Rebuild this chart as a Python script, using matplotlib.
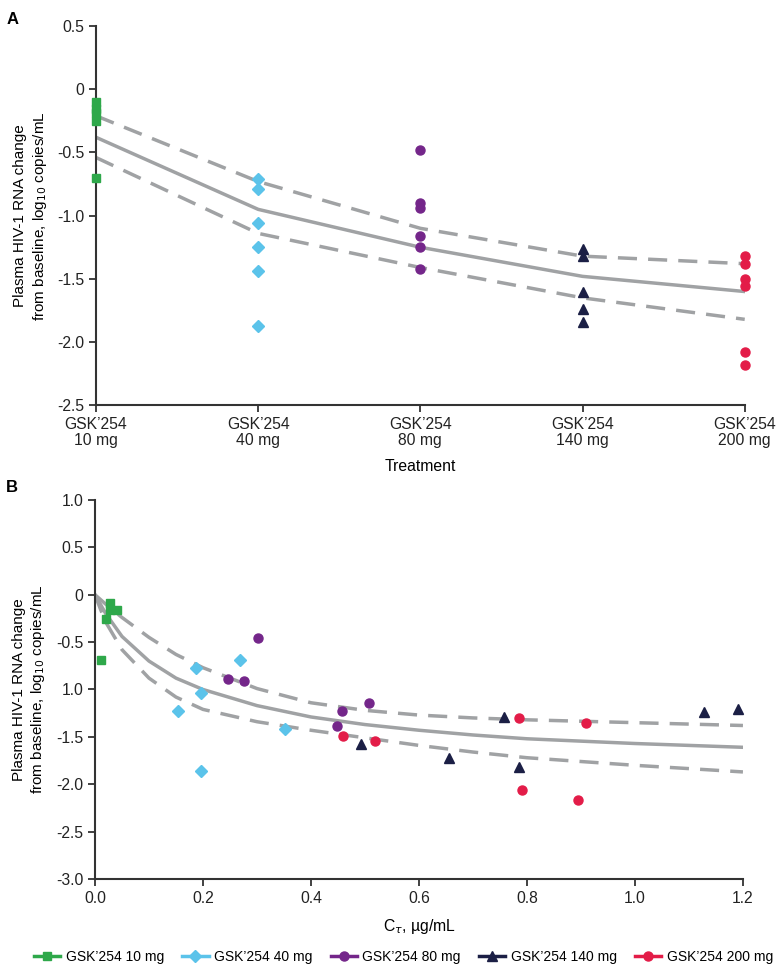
import matplotlib
matplotlib.use("Agg")
from matplotlib import pyplot as plt
from matplotlib.lines import Line2D

plt.rcParams['font.family'] = ['Liberation Sans', 'DejaVu Sans']
plt.rcParams['font.size'] = 11

# groups
groups = ["GSK’254 10 mg", "GSK’254 40 mg", "GSK’254 80 mg", "GSK’254 140 mg", "GSK’254 200 mg"]
colors = ["#2ea84a", "#5bc3ea", "#74268a", "#1b1f45", "#e31c48"]
markers = ["s", "D", "o", "^", "o"]
msizes = [6, 6.5, 6.5, 6.5, 6.5]
cat_labels = ["GSK’254\n10 mg", "GSK’254\n40 mg", "GSK’254\n80 mg", "GSK’254\n140 mg", "GSK’254\n200 mg"]

# panel A: change in HIV-1 RNA by dose group
resp_10 = [-0.10, -0.16, -0.19, -0.25, -0.70]
resp_40 = [-0.71, -0.79, -1.06, -1.25, -1.44, -1.87]
resp_80 = [-0.48, -0.90, -0.94, -1.16, -1.25, -1.42]
resp_140 = [-1.26, -1.32, -1.60, -1.74, -1.84]
resp_200 = [-1.32, -1.38, -1.50, -1.56, -2.08, -2.18]
resp_by_dose = [resp_10, resp_40, resp_80, resp_140, resp_200]

# model prediction and bounds per dose group (panel A)
pred_a = [-0.38, -0.95, -1.25, -1.48, -1.60]
upper_a = [-0.21, -0.73, -1.10, -1.32, -1.38]
lower_a = [-0.54, -1.14, -1.41, -1.65, -1.82]

# panel B: change in HIV-1 RNA vs C-tau
ct_10 = [0.028, 0.027, 0.040, 0.020, 0.012]
ch_10 = [-0.09, -0.16, -0.16, -0.26, -0.69]
ct_40 = [0.188, 0.269, 0.197, 0.154, 0.351, 0.197]
ch_40 = [-0.77, -0.69, -1.04, -1.23, -1.42, -1.86]
ct_80 = [0.302, 0.246, 0.276, 0.507, 0.457, 0.448]
ch_80 = [-0.46, -0.89, -0.91, -1.14, -1.23, -1.39]
ct_140 = [0.493, 0.656, 0.758, 0.785, 1.127, 1.191]
ch_140 = [-1.58, -1.72, -1.29, -1.82, -1.24, -1.21]
ct_200 = [0.460, 0.519, 0.785, 0.909, 0.791, 0.895]
ch_200 = [-1.49, -1.54, -1.30, -1.35, -2.06, -2.17]
ct_by_dose = [ct_10, ct_40, ct_80, ct_140, ct_200]
ch_by_dose = [ch_10, ch_40, ch_80, ch_140, ch_200]

# model curves panel B
curve_x = [0, 0.01, 0.02, 0.05, 0.1, 0.15, 0.2, 0.3, 0.4, 0.5, 0.6, 0.7, 0.8, 1.0, 1.2]
pred_b = [0, -0.10, -0.20, -0.44, -0.70, -0.88, -1.00, -1.17, -1.29, -1.37, -1.43, -1.48, -1.52, -1.57, -1.61]
upper_b = [0, -0.05, -0.10, -0.24, -0.45, -0.63, -0.77, -0.99, -1.14, -1.22, -1.27, -1.30, -1.32, -1.35, -1.38]
lower_b = [0, -0.15, -0.29, -0.58, -0.88, -1.08, -1.21, -1.34, -1.43, -1.51, -1.59, -1.66, -1.72, -1.80, -1.87]

yt_a = [0.5, 0, -0.5, -1.0, -1.5, -2.0, -2.5]
yt_a_lab = ["0.5", "0", "-0.5", "-1.0", "-1.5", "-2.0", "-2.5"]
yt_b = [1.0, 0.5, 0, -0.5, -1.0, -1.5, -2.0, -2.5, -3.0]
yt_b_lab = ["1.0", "0.5", "0", "-0.5", "1.0", "-1.5", "-2.0", "-2.5", "-3.0"]
xt_b = [0.0, 0.2, 0.4, 0.6, 0.8, 1.0, 1.2]
xt_b_lab = ["0.0", "0.2", "0.4", "0.6", "0.8", "1.0", "1.2"]

ylabel = "Plasma HIV-1 RNA change\nfrom baseline, log$_{10}$ copies/mL"
curve_col = "#a0a2a4"
axis_col = "#333333"
dash = (0, (5.5, 3.2))


def style_axes(ax):
    for s in ["top", "right"]:
        ax.spines[s].set_visible(False)
    for s in ["left", "bottom"]:
        ax.spines[s].set_color(axis_col)
        ax.spines[s].set_linewidth(1.5)
    ax.tick_params(colors=axis_col, width=1.3, length=5, labelcolor="#222222", labelsize=11.3)


fig = plt.figure(figsize=(7.76, 9.65), dpi=100)

# ---- panel A
ax1 = fig.add_axes([0.1237, 0.580, 0.836, 0.393])
style_axes(ax1)
xs = range(len(groups))
ax1.plot(xs, pred_a, color=curve_col, lw=2.5, zorder=1)
ax1.plot(xs, upper_a, color=curve_col, lw=2.5, ls=dash, zorder=1)
ax1.plot(xs, lower_a, color=curve_col, lw=2.5, ls=dash, zorder=1)
for i, vals in enumerate(resp_by_dose):
    ax1.plot([i] * len(vals), vals, ls="none", marker=markers[i], ms=msizes[i],
             color=colors[i], clip_on=False, zorder=3)
ax1.set_xlim(0, 4)
ax1.set_ylim(-2.5, 0.5)
ax1.set_xticks(list(xs))
ax1.set_xticklabels(cat_labels, linespacing=1.1)
ax1.set_yticks(yt_a)
ax1.set_yticklabels(yt_a_lab)
ax1.set_xlabel("Treatment", fontsize=11.3, labelpad=8)
ax1.set_ylabel(ylabel, fontsize=11, linespacing=1.3, labelpad=6)
fig.text(0.008, 0.988, "A", fontsize=12, fontweight="bold", va="top")

# ---- panel B
ax2 = fig.add_axes([0.1224, 0.0891, 0.835, 0.3928])
style_axes(ax2)
ax2.plot(curve_x, pred_b, color=curve_col, lw=2.5, zorder=1)
ax2.plot(curve_x, upper_b, color=curve_col, lw=2.5, ls=dash, zorder=1)
ax2.plot(curve_x, lower_b, color=curve_col, lw=2.5, ls=dash, zorder=1)
for i in range(len(groups)):
    ax2.plot(ct_by_dose[i], ch_by_dose[i], ls="none", marker=markers[i], ms=msizes[i],
             color=colors[i], clip_on=False, zorder=3)
ax2.set_xlim(0, 1.2)
ax2.set_ylim(-3.0, 1.0)
ax2.set_xticks(xt_b)
ax2.set_xticklabels(xt_b_lab)
ax2.set_yticks(yt_b)
ax2.set_yticklabels(yt_b_lab)
ax2.set_xlabel("C$_{\\tau}$, µg/mL", fontsize=11.3, labelpad=8)
ax2.set_ylabel(ylabel, fontsize=11, linespacing=1.3, labelpad=6)
fig.text(0.008, 0.503, "B", fontsize=12, fontweight="bold", va="top")

# legend
handles = [Line2D([], [], color=colors[i], marker=markers[i], ms=msizes[i], lw=2.5)
           for i in range(len(groups))]
fig.legend(handles, groups, loc="lower center", bbox_to_anchor=(0.52, -0.012), ncol=5,
           frameon=False, fontsize=10, handlelength=1.9, columnspacing=1.3,
           handletextpad=0.4)

fig.savefig("out.png", dpi=100)
